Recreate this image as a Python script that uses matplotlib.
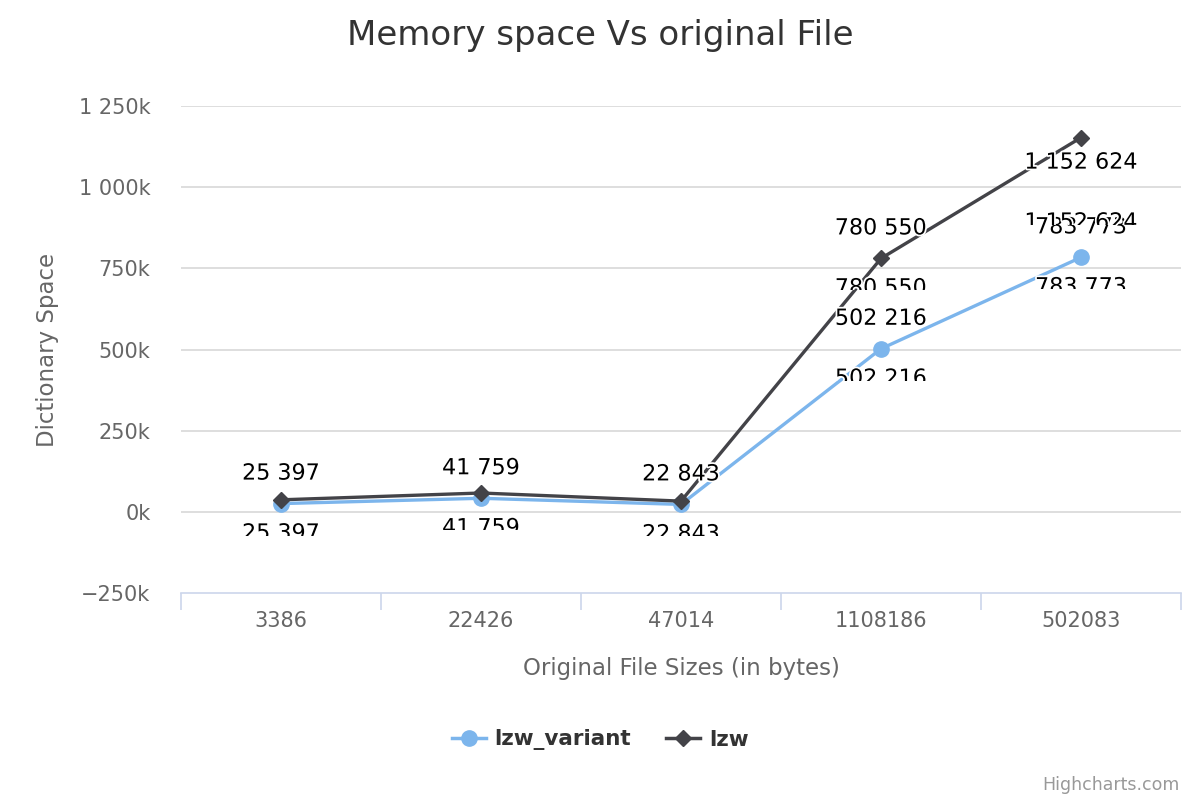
import matplotlib
matplotlib.use("Agg")
import matplotlib.pyplot as plt
import matplotlib.patheffects as pe
from matplotlib.lines import Line2D
from matplotlib.transforms import Bbox

# data
file_sizes = ["3386", "22426", "47014", "1108186", "502083"]
lzw_variant = [25397, 41759, 22843, 502216, 783773]
lzw = [37000, 58000, 33000, 780550, 1152624]
y_ticks = [-250000, 0, 250000, 500000, 750000, 1000000, 1250000]

BLUE = "#7cb5ec"
DARK = "#434348"
GRID = "#d8d8d8"
AXIS = "#ccd6eb"
LABEL = "#666666"

W, H = 1200, 800
fig = plt.figure(figsize=(12, 8), dpi=100)
# plot area: x 181..1181, y 106..593 (image px)
ax = fig.add_axes([181 / W, 1 - 593 / H, 1000 / W, (593 - 106) / H])

x = list(range(len(file_sizes)))
ax.set_xlim(-0.5, len(file_sizes) - 0.5)
ax.set_ylim(y_ticks[0], y_ticks[-1])

ax.plot(x, lzw_variant, color=BLUE, lw=2.4, marker="o", ms=11,
        mec=BLUE, mfc=BLUE, zorder=3)
ax.plot(x, lzw, color=DARK, lw=2.4, marker="D", ms=8.5,
        mec=DARK, mfc=DARK, zorder=4)

# grid / axes styling
ax.set_yticks(y_ticks)
ax.set_yticklabels([("−" if v < 0 else "") + f"{abs(v) // 1000:,}k".replace(",", " ")
                    for v in y_ticks])
for v in y_ticks[1:]:
    ax.axhline(v, color=GRID, lw=1.2, zorder=1)
for s in ["top", "right", "left"]:
    ax.spines[s].set_visible(False)
ax.spines["bottom"].set_color(AXIS)
ax.spines["bottom"].set_linewidth(1.2)
ax.tick_params(axis="y", length=0, pad=22, labelsize=15, labelcolor=LABEL)
ax.set_xticks(x)
ax.set_xticklabels(file_sizes)
ax.tick_params(axis="x", length=0, pad=13, labelsize=15, labelcolor=LABEL)
ax.set_xticks([i - 0.5 for i in range(len(file_sizes) + 1)], minor=True)
ax.tick_params(axis="x", which="minor", length=12, width=1.2, color=AXIS)

ax.set_xlabel("Original File Sizes (in bytes)", fontsize=16.5, color=LABEL, labelpad=19)
ax.set_ylabel("Dictionary Space", fontsize=16.5, color=LABEL, labelpad=14)

fig.text(0.5, 1 - 35 / H, "Memory space Vs original File", ha="center", va="center",
         fontsize=24.5, color="#333333")

# data labels: each drawn once above and once (cut) below, as in the reference
stroke = [pe.withStroke(linewidth=2.5, foreground="white")]


def put_label(xi, yv, txt, off_px, clipped):
    t = ax.annotate(txt, (xi, yv), xytext=(0, -off_px * 0.72), textcoords="offset points",
                    ha="center", va="center", fontsize=16, color="black",
                    path_effects=stroke, zorder=6, annotation_clip=False)
    if clipped:
        dy = ax.transData.transform((xi, yv))[1]
        cut = dy - off_px - 2
        t.set_clip_box(Bbox([[0, cut], [W, H]]))
        t.set_clip_on(True)
    else:
        t.set_clip_on(False)


fmt = lambda v: f"{v:,}".replace(",", " ")
for i, v in enumerate(lzw_variant):
    put_label(i, v, fmt(v), -30, False)
    put_label(i, v, fmt(v), 30, True)
# lzw labels only visible for the last two points
put_label(3, lzw[3], fmt(lzw[3]), -30, False)
put_label(3, lzw[3], fmt(lzw[3]), 30, True)
put_label(4, lzw[4], fmt(lzw[4]), 25, False)
put_label(4, lzw[4], fmt(lzw[4]), 85, True)

handles = [
    Line2D([], [], color=BLUE, lw=2.5, marker="o", ms=11, mec=BLUE),
    Line2D([], [], color=DARK, lw=2.5, marker="D", ms=8.5, mec=DARK),
]
leg = fig.legend(handles, ["lzw_variant", "lzw"], loc="center",
                 bbox_to_anchor=(0.5, 1 - 740 / H), ncol=2, frameon=False,
                 handlelength=1.6, columnspacing=1.6, handletextpad=0.4,
                 prop={"size": 15.5, "weight": "bold"})
for t in leg.get_texts():
    t.set_color("#333333")

fig.text(1180 / W, 1 - 785 / H, "Highcharts.com", ha="right", va="center",
         fontsize=12.5, color="#999999")

fig.savefig("out.png", dpi=100)
